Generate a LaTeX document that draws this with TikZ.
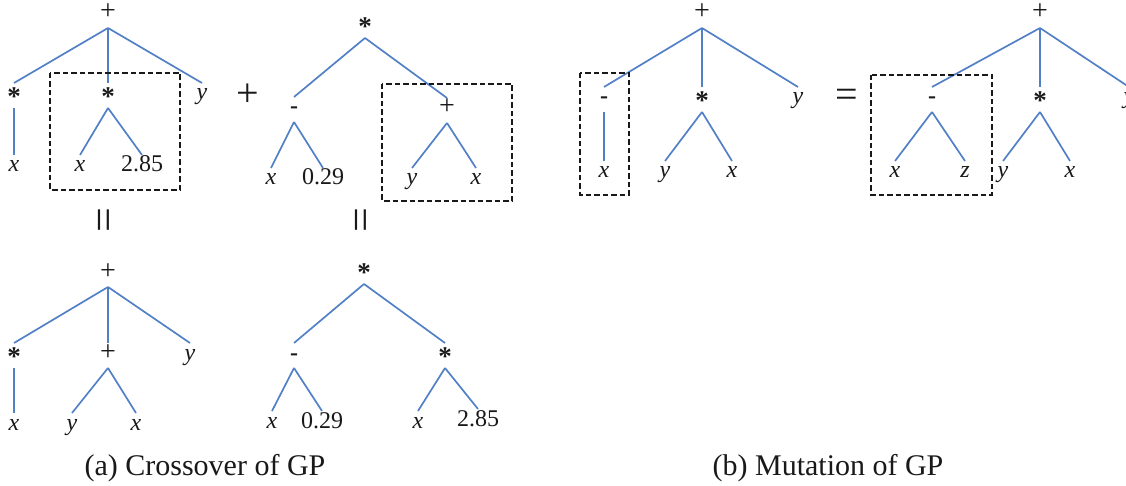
\documentclass[tikz,border=0pt]{standalone}
\usepackage{fontspec}
\setmainfont{Liberation Serif}
\definecolor{edgeblue}{RGB}{82,128,198}
\definecolor{inkc}{RGB}{25,25,25}
\newcommand{\astr}{\raisebox{-0.22em}{\fontsize{27}{30}\selectfont\bfseries *}}
\newcommand{\mns}{\textbf{-}}
\newcommand{\pls}{{\fontsize{28}{30}\selectfont +}}
\begin{document}
\begin{tikzpicture}[x=1pt,y=-1pt,
  lbl/.style={inner sep=0pt, outer sep=0pt, text height=17pt, text depth=8pt, anchor=base, text=inkc, font=\fontsize{24}{27}\selectfont},
  edge/.style={draw=edgeblue, line width=1.7pt},
  dbox/.style={draw=black!90, line width=2.6pt, dash pattern=on 5.5pt off 3pt},
  op/.style={inner sep=0pt, text=inkc, font=\fontsize{40}{44}\selectfont},
  vop/.style={inner sep=0pt, text=inkc, font=\fontsize{44}{48}\selectfont, rotate=90},
  captxt/.style={inner sep=0pt, text=inkc, font=\fontsize{30}{34}\selectfont}]
\useasboundingbox (0,0) rectangle (1126,486);

% ---- Tree A1 (top left)
\node[lbl] (A1r) at (108,20) {\pls};
\node[lbl] (A1a) at (14,100) {\astr};
\node[lbl] (A1b) at (108,100) {\astr};
\node[lbl] (A1c) at (202,100) {\textit{y}};
\node[lbl] (A1a1) at (14,172) {\textit{x}};
\node[lbl] (A1b1) at (80,172) {\textit{x}};
\node[lbl] (A1b2) at (142,172) {2.85};
\draw[edge] (A1r.south) -- (A1a.north);
\draw[edge] (A1r.south) -- (A1b.north);
\draw[edge] (A1r.south) -- (A1c.north);
\draw[edge] (A1a.south) -- (A1a1.north);
\draw[edge] (A1b.south) -- (A1b1.north);
\draw[edge] (A1b.south) -- (A1b2.north);
\draw[dbox] (50,73) rectangle (180,190);

\node[op] (plusop) at (248,95) {+};

% ---- Tree A2 (top middle)
\node[lbl] (A2r) at (365,30) {\astr};
\node[lbl] (A2a) at (294,114) {\mns};
\node[lbl] (A2b) at (447,115) {\pls};
\node[lbl] (A2a1) at (271,185) {\textit{x}};
\node[lbl] (A2a2) at (323,185) {0.29};
\node[lbl] (A2b1) at (412,185) {\textit{y}};
\node[lbl] (A2b2) at (476,185) {\textit{x}};
\draw[edge] (A2r.south) -- (A2a.north);
\draw[edge] (A2r.south) -- (A2b.north);
\draw[edge] (A2a.south) -- (A2a1.north);
\draw[edge] (A2a.south) -- (A2a2.north);
\draw[edge] (A2b.south) -- (A2b1.north);
\draw[edge] (A2b.south) -- (A2b2.north);
\draw[dbox] (382,84) rectangle (512,201);

\node[vop] (eqA1) at (108,220) {=};
\node[vop] (eqA2) at (365,220) {=};

% ---- Tree A3 (bottom left)
\node[lbl] (A3r) at (108,279) {\pls};
\node[lbl] (A3a) at (14,360) {\astr};
\node[lbl] (A3b) at (108,360) {\pls};
\node[lbl] (A3c) at (190,360) {\textit{y}};
\node[lbl] (A3a1) at (14,430) {\textit{x}};
\node[lbl] (A3b1) at (72,430) {\textit{y}};
\node[lbl] (A3b2) at (136,430) {\textit{x}};
\draw[edge] (A3r.south) -- (A3a.north);
\draw[edge] (A3r.south) -- (A3b.north);
\draw[edge] (A3r.south) -- (A3c.north);
\draw[edge] (A3a.south) -- (A3a1.north);
\draw[edge] (A3b.south) -- (A3b1.north);
\draw[edge] (A3b.south) -- (A3b2.north);

% ---- Tree A4 (bottom middle)
\node[lbl] (A4r) at (364,276) {\astr};
\node[lbl] (A4a) at (294,360) {\mns};
\node[lbl] (A4b) at (445,360) {\astr};
\node[lbl] (A4a1) at (272,428) {\textit{x}};
\node[lbl] (A4a2) at (322,428) {0.29};
\node[lbl] (A4b1) at (418,428) {\textit{x}};
\node[lbl] (A4b2) at (478,426) {2.85};
\draw[edge] (A4r.south) -- (A4a.north);
\draw[edge] (A4r.south) -- (A4b.north);
\draw[edge] (A4a.south) -- (A4a1.north);
\draw[edge] (A4a.south) -- (A4a2.north);
\draw[edge] (A4b.south) -- (A4b1.north);
\draw[edge] (A4b.south) -- (A4b2.north);

% ---- Tree B1
\node[lbl] (B1r) at (702,20) {\pls};
\node[lbl] (B1a) at (604,104) {\mns};
\node[lbl] (B1b) at (702,104) {\astr};
\node[lbl] (B1c) at (798,104) {\textit{y}};
\node[lbl] (B1a1) at (604,178) {\textit{x}};
\node[lbl] (B1b1) at (665,178) {\textit{y}};
\node[lbl] (B1b2) at (732,178) {\textit{x}};
\draw[edge] (B1r.south) -- (B1a.north);
\draw[edge] (B1r.south) -- (B1b.north);
\draw[edge] (B1r.south) -- (B1c.north);
\draw[edge] (B1a.south) -- (B1a1.north);
\draw[edge] (B1b.south) -- (B1b1.north);
\draw[edge] (B1b.south) -- (B1b2.north);
\draw[dbox] (580,73) rectangle (629,195);

\node[op] (eqB) at (847,98) {=};

% ---- Tree B2
\node[lbl] (B2r) at (1040,20) {\pls};
\node[lbl] (B2a) at (932,104) {\mns};
\node[lbl] (B2b) at (1040,104) {\astr};
\node[lbl] (B2c) at (1129,104) {\textit{y}};
\node[lbl] (B2a1) at (895,178) {\textit{x}};
\node[lbl] (B2a2) at (965,178) {\textit{z}};
\node[lbl] (B2b1) at (1003,178) {\textit{y}};
\node[lbl] (B2b2) at (1070,178) {\textit{x}};
\draw[edge] (B2r.south) -- (B2a.north);
\draw[edge] (B2r.south) -- (B2b.north);
\draw[edge] (B2r.south) -- (B2c.north);
\draw[edge] (B2a.south) -- (B2a1.north);
\draw[edge] (B2a.south) -- (B2a2.north);
\draw[edge] (B2b.south) -- (B2b1.north);
\draw[edge] (B2b.south) -- (B2b2.north);
\draw[dbox] (871,75) rectangle (992,195);

% ---- Captions
\node[captxt] (capA) at (205,468) {(a) Crossover of GP};
\node[captxt] (capB) at (828,468) {(b) Mutation of GP};
\end{tikzpicture}
\end{document}
